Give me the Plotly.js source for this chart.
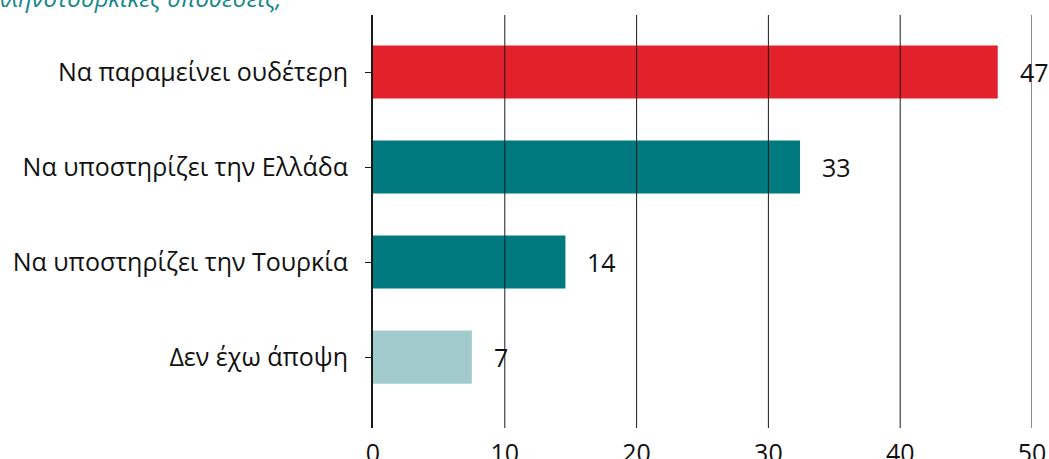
<!DOCTYPE html>
<html>
<head>
<meta charset="utf-8">
<script src="https://cdn.plot.ly/plotly-3.0.1.min.js"></script>
<style>html,body{margin:0;padding:0;background:#fff;}#chart{width:1049px;height:459px;}</style>
</head>
<body>
<div id="chart"></div>
<script>
const categories = ["Να παραμείνει ουδέτερη", "Να υποστηρίζει την Ελλάδα", "Να υποστηρίζει την Τουρκία", "Δεν έχω άποψη"];
const values = [47.4, 32.4, 14.6, 7.5];
const valueLabels = ["47", "33", "14", "7"];
const barColors = ["#e2212a", "#007a7f", "#007a7f", "#a2cbce"];
const xTicks = [0, 10, 20, 30, 40, 50];
const titleText = "Ποια στάση θα έπρεπε να κρατήσει η ΕΕ στις ελληνοτουρκικές υποθέσεις;";

const FONT = "Open Sans, Noto Sans, sans-serif";

const trace = {
  type: "bar",
  orientation: "h",
  y: categories,
  x: values,
  width: 0.56,
  marker: {color: barColors, line: {width: 0}},
  hoverinfo: "skip"
};

const shapes = xTicks.filter(v => v > 0).map(v => ({
  type: "line", xref: "x", yref: "paper", x0: v, x1: v, y0: 0, y1: 1,
  line: {color: "#1a1a1a", width: 1}, layer: "above"
}));

const annotations = categories.map((c, i) => ({
  x: values[i], y: c, xref: "x", yref: "y",
  text: valueLabels[i], showarrow: false,
  xanchor: "left", yanchor: "middle", xshift: 20,
  font: {family: FONT, size: 25, color: "#111"}
}));

annotations.push({
  xref: "paper", yref: "paper",
  x: (284 - 373) / 659, y: 1.0,
  xanchor: "right", yanchor: "bottom",
  yshift: -1,
  text: titleText, showarrow: false,
  font: {family: FONT, size: 24, color: "#13878a", style: "italic"}
});

const layout = {
  width: 1049, height: 459,
  margin: {l: 373, r: 17, t: 15, b: 31, pad: 0},
  paper_bgcolor: "#fff", plot_bgcolor: "#fff",
  showlegend: false,
  font: {family: FONT, color: "#111"},
  xaxis: {
    range: [0, 50], tickvals: xTicks, ticktext: xTicks.map(String),
    showgrid: false, zeroline: false, showline: false,
    ticks: "", tickfont: {family: FONT, size: 25, color: "#111"},
    ticklabelstandoff: 8, fixedrange: true
  },
  yaxis: {
    type: "category", range: [3.747, -0.6],
    showgrid: false, zeroline: false,
    showline: true, linecolor: "#1a1a1a", linewidth: 2,
    ticks: "outside", ticklen: 6, tickcolor: "#1a1a1a", tickwidth: 1,
    tickfont: {family: FONT, size: 25, color: "#111"},
    ticklabelstandoff: 12, layer: "above traces", fixedrange: true
  },
  shapes: shapes,
  annotations: annotations,
  bargap: 0.44
};

Plotly.newPlot("chart", [trace], layout, {displayModeBar: false, staticPlot: true});
</script>
</body>
</html>
